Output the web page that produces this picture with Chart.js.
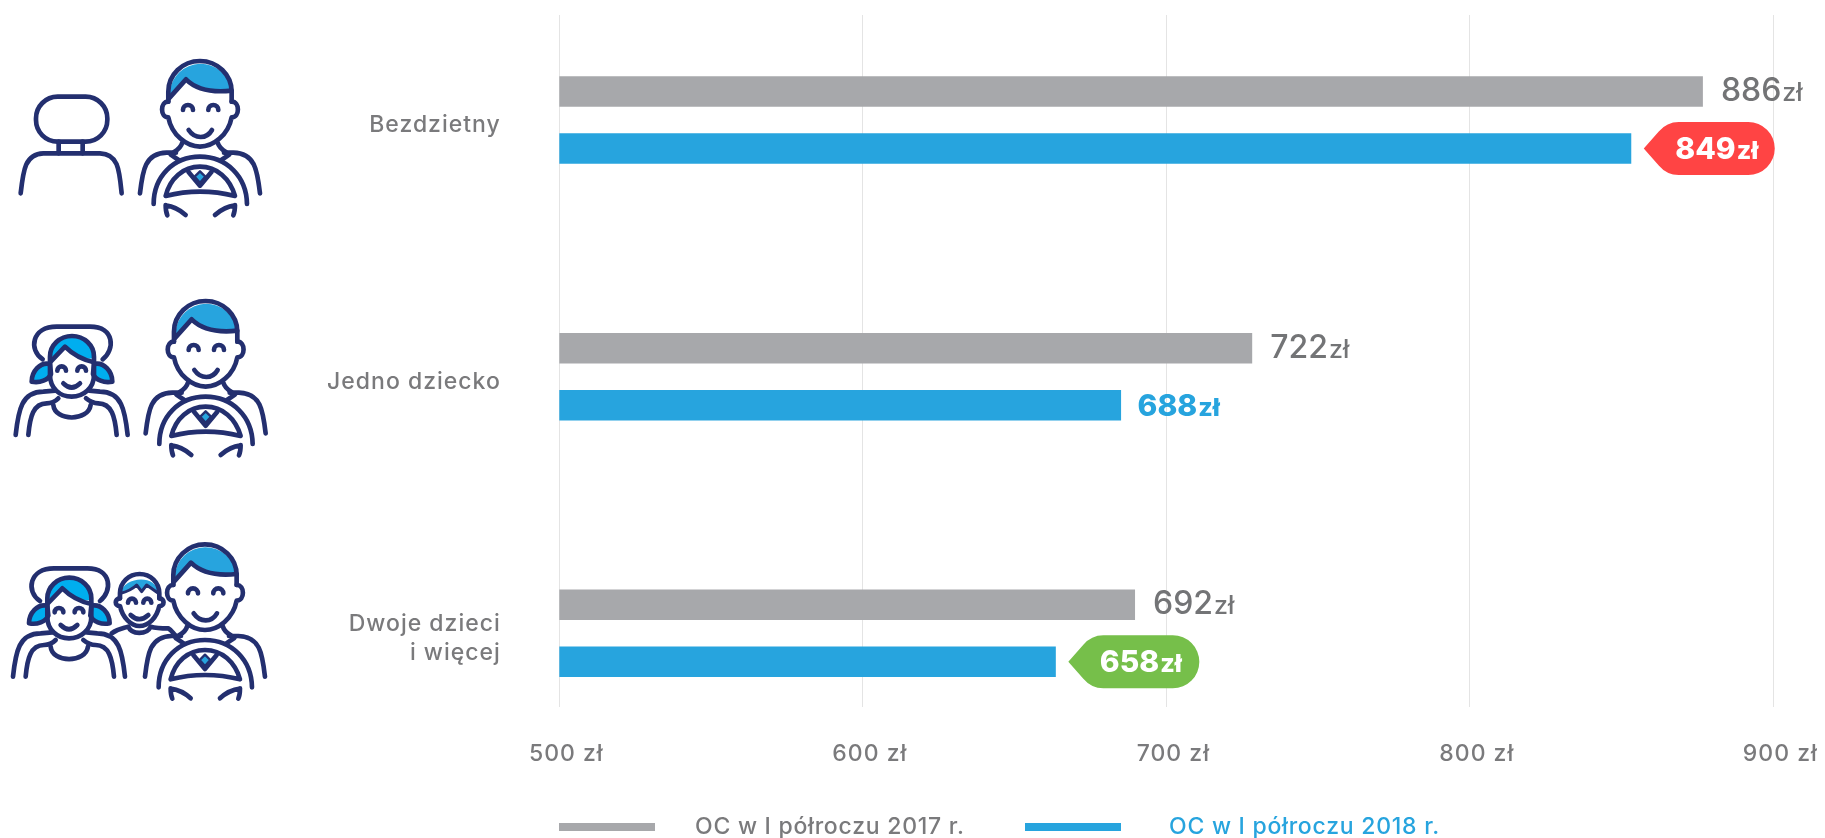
<!DOCTYPE html>
<html lang="pl">
<head>
<meta charset="utf-8">
<title>OC a dzieci</title>
<script src="https://cdn.jsdelivr.net/npm/chart.js@4/dist/chart.umd.min.js"></script>
<style>
  html, body { margin: 0; padding: 0; background: #fff; overflow: hidden; }
  #wrap { position: relative; width: 1825px; height: 838px; font-family: Inter, sans-serif; }
  #chart { position: absolute; left: 0; top: 0; }
  #icons { position: absolute; left: 0; top: 0; }
  .legend-bar { position: absolute; top: 823px; width: 96px; height: 8px; }
  .legend-text { position: absolute; top: 812px; font-size: 23px; line-height: 28px; font-weight: 500; letter-spacing: 0.75px; white-space: nowrap; }
</style>
</head>
<body>
<div id="wrap">
  <canvas id="chart" width="1825" height="838"></canvas>

  <svg id="icons" width="300" height="838" fill="none" stroke="#232f6f" stroke-width="14" stroke-linecap="round" stroke-linejoin="round">
    <defs>
      <g id="driver">
        <path d="M510 195 V185 A92 90 0 0 1 693 180 C640 188 590 180 558 148 Z" fill="#27a4de" stroke="none"/>
        <path d="M505 215 V185 A95 92 0 0 1 695 185 V215"/>
        <path d="M507 205 L558 148 C590 180 640 188 695 182"/>
        <path d="M505 215 C480 215 480 262 505 262 C515 315 560 350 600 350 C640 350 685 315 695 262 C720 262 720 215 695 215"/>
        <path d="M549 240 A15 15 0 0 1 579 240 M625 240 A15 15 0 0 1 655 240"/>
        <path d="M566 300 C585 328 620 328 636 300"/>
        <path d="M420 490 C428 420 435 370 500 368 H528 M780 490 C772 420 765 370 700 368 H672"/>
        <path d="M547 338 Q542 355 522 366 M653 338 Q658 355 678 366 M512 374 L536 390 M688 374 L664 390"/>
        <path d="M461 522 C461 440 520 380 600 380 C680 380 740 440 741 522"/>
        <path d="M497 498 C510 445 550 410 600 410 C650 410 690 445 705 498 Q600 472 497 498 Z"/>
        <path d="M600 424 L616 440 L600 458 L584 440 Z" fill="#27a4de" stroke-width="7"/>
        <path d="M565 425 L600 467 L635 425"/>
        <path d="M497 525 Q497 545 502 556 M497 526 Q530 530 557 555 M705 525 Q705 545 700 556 M705 526 Q672 530 645 555"/>
      </g>
      <g id="headrest">
        <rect x="108" y="200" width="214" height="135" rx="65"/>
        <path d="M176 335 V370 M248 335 V370"/>
        <path d="M62 490 C70 420 75 372 130 370 H300 C355 372 358 420 365 490"/>
      </g>
      <g id="girl">
        <path d="M128 178 C85 150 95 80 170 80 H270 C345 80 345 150 308 178"/>
        <path d="M152 175 A63 62 0 0 1 280 175 C250 180 220 165 195 140 Z" fill="#00aeef" stroke="none"/>
        <path d="M150 192 C120 185 95 215 95 245 C120 250 145 240 153 222 Z" fill="#00aeef"/>
        <path d="M282 192 C312 185 337 215 337 245 C312 250 287 240 279 222 Z" fill="#00aeef"/>
        <path d="M150 225 V170 A66 62 0 0 1 282 170 V225 C282 265 250 290 215 290 C180 290 150 265 150 225 Z" fill="none"/>
        <path d="M150 187 L195 140 C220 165 250 180 282 187"/>
        <path d="M172 212 A13 13 0 0 1 198 212 M232 212 A13 13 0 0 1 258 212"/>
        <path d="M190 250 Q215 275 240 250"/>
        <path d="M47 405 C55 330 65 275 130 275 L165 272 M383 405 C375 330 365 275 300 275 L268 272"/>
        <path d="M85 405 C90 350 100 310 140 310 C155 310 165 305 175 295 M350 405 C345 350 335 310 295 310 C280 310 270 305 258 295"/>
        <path d="M160 315 C165 365 265 365 272 315"/>
      </g>
      <g id="boy">
        <path d="M362 190 C370 140 470 130 475 190 L440 165 L425 185 L410 165 C395 180 380 185 362 190 Z" fill="#27a4de" stroke="none"/>
        <path d="M360 205 V190 A59 58 0 0 1 478 190 V205"/>
        <path d="M362 190 C380 185 395 180 410 165 L425 185 L440 165 L475 190" stroke-width="9"/>
        <path d="M360 205 C343 205 343 228 360 228 C368 265 395 288 418 288 C445 288 470 265 478 228 C495 228 495 205 478 205"/>
        <path d="M384 218 A12 12 0 0 1 408 218 M430 218 A12 12 0 0 1 454 218"/>
        <path d="M392 255 Q418 280 445 255"/>
        <path d="M335 310 C355 295 370 295 385 290 C395 315 440 315 452 290 C470 295 490 295 505 295 C515 300 520 310 525 315"/>
      </g>
    </defs>
    <g transform="translate(0 30) scale(0.3333)">
      <use href="#headrest"/>
      <use href="#driver"/>
    </g>
    <g transform="translate(0 300) scale(0.3333)">
      <use href="#girl"/>
      <use href="#driver" x="17" y="-90"/>
    </g>
    <g transform="translate(0 530) scale(0.3333)">
      <use href="#girl" x="-8" y="35"/>
      <use href="#boy"/>
      <use href="#driver" x="15" y="-50"/>
    </g>
  </svg>

  <span class="legend-bar" style="left:559px;background:#a7a8ab"></span>
  <span class="legend-text" style="left:695px;color:#7a7a7c">OC w I półroczu 2017 r.</span>
  <span class="legend-bar" style="left:1025px;background:#27a4de"></span>
  <span class="legend-text" style="left:1169px;color:#27a4de">OC w I półroczu 2018 r.</span>
</div>

<script>
const categories = ["Bezdzietny", "Jedno dziecko", ["Dwoje dzieci", "i więcej"]];
const seriesNames = ["OC w I półroczu 2017 r.", "OC w I półroczu 2018 r."];

// bar lengths as drawn on the axis, they do not quite agree with the printed amounts
const bars2017 = [876.8, 728.3, 689.7];
const bars2018 = [853.2, 685.1, 663.6];

// amounts printed next to the bars
const printed2017 = [886, 722, 692];
const printed2018 = [849, 688, 658];

const axisTicks = [500, 600, 700, 800, 900];

const grey = "#a7a8ab";
const blue = "#27a4de";
const textGrey = "#7a7a7c";
const badgeColors = ["#ff4444", null, "#76bf4a"];

Chart.defaults.font.family = "Inter, sans-serif";

function drawAmount(ctx, x, y, amount, color, weight, size) {
  ctx.fillStyle = color;
  ctx.textAlign = "left";
  ctx.textBaseline = "alphabetic";
  ctx.font = weight + " " + size + "px Inter, sans-serif";
  const text = String(amount);
  ctx.fillText(text, x, y);
  const w = ctx.measureText(text).width;
  ctx.font = weight + " 25px Inter, sans-serif";
  ctx.fillText("zł", x + w + 1, y);
}

function drawBadge(ctx, tip, cy, color) {
  const r = 26.5;
  const right = tip + 131;
  ctx.fillStyle = color;
  ctx.beginPath();
  ctx.moveTo(tip, cy);
  ctx.lineTo(tip + 15, cy - 17);
  ctx.quadraticCurveTo(tip + 23, cy - r, tip + 35, cy - r);
  ctx.lineTo(right - r, cy - r);
  ctx.arc(right - r, cy, r, -Math.PI / 2, Math.PI / 2);
  ctx.lineTo(tip + 35, cy + r);
  ctx.quadraticCurveTo(tip + 23, cy + r, tip + 15, cy + 17);
  ctx.closePath();
  ctx.fill();
}

const amountLabels = {
  id: "amountLabels",
  beforeDraw(chart) {
    // the original type is wider than Inter
    chart.ctx.letterSpacing = "1px";
  },
  afterDatasetsDraw(chart) {
    const ctx = chart.ctx;
    ctx.save();
    ctx.letterSpacing = "0px";
    chart.getDatasetMeta(0).data.forEach((bar, i) => {
      drawAmount(ctx, bar.x + 18, bar.y + 9.5, printed2017[i], "#737476", 500, 32);
    });
    chart.getDatasetMeta(1).data.forEach((bar, i) => {
      const badge = badgeColors[i];
      if (badge) {
        drawBadge(ctx, bar.x + 12.5, bar.y, badge);
        drawAmount(ctx, bar.x + 44, bar.y + 10.5, printed2018[i], "#fff", 800, 30);
      } else {
        drawAmount(ctx, bar.x + 16.5, bar.y + 10.5, printed2018[i], blue, 800, 30);
      }
    });
    ctx.restore();
  }
};

const ctx = document.getElementById("chart").getContext("2d");
const myChart = new Chart(ctx, {
  type: "bar",
  data: {
    datasets: [
      {
        label: seriesNames[0],
        data: bars2017.map((v, i) => ({ x: v, y: i })),
        backgroundColor: grey,
      },
      {
        label: seriesNames[1],
        data: bars2018.map((v, i) => ({ x: v, y: i })),
        backgroundColor: blue,
      },
    ],
  },
  plugins: [amountLabels],
  options: {
    indexAxis: "y",
    responsive: false,
    animation: false,
    categoryPercentage: 0.444,
    barPercentage: 0.535,
    layout: { padding: { top: 15, right: 51.7, bottom: 0, left: 0 } },
    plugins: {
      legend: { display: false },
      tooltip: { enabled: false },
    },
    scales: {
      x: {
        type: "linear",
        min: 500,
        max: 900,
        afterBuildTicks: (scale) => {
          scale.ticks = axisTicks.map((v) => ({ value: v }));
        },
        afterFit: (scale) => {
          scale.height = 131;
          scale.paddingLeft = 0;
          scale.paddingRight = 0;
        },
        grid: { color: "#e4e4e4", lineWidth: 1, drawTicks: false },
        border: { display: false },
        ticks: {
          padding: 33,
          labelOffset: 7,
          maxRotation: 0,
          color: textGrey,
          font: { size: 23, weight: 500 },
          callback: (value) => value + " zł",
        },
      },
      y: {
        type: "linear",
        reverse: true,
        offset: false,
        min: -0.409,
        max: 2.287,
        afterBuildTicks: (scale) => {
          scale.ticks = categories.map((c, i) => ({ value: i }));
        },
        afterFit: (scale) => {
          scale.width = 559.3;
          scale.paddingTop = 0;
          scale.paddingBottom = 0;
        },
        grid: { display: false, drawTicks: false },
        border: { display: false },
        ticks: {
          padding: 58.5,
          labelOffset: 5,
          color: textGrey,
          font: { size: 23, weight: 500, lineHeight: 1.26 },
          callback: (value) => categories[value],
        },
      },
    },
  },
});
</script>
</body>
</html>
